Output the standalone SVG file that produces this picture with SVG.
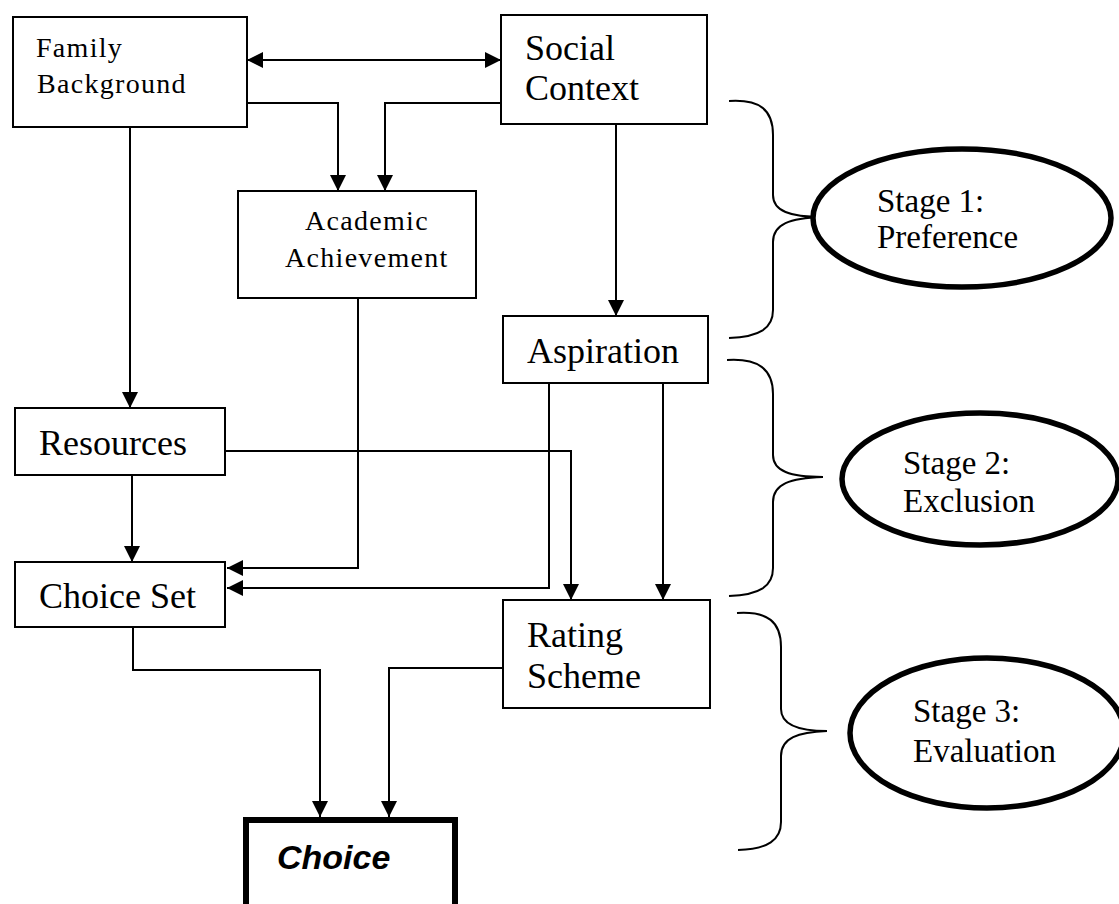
<svg xmlns="http://www.w3.org/2000/svg" width="1119" height="904" viewBox="0 0 1119 904">
<style>
.box{fill:#fff;stroke:#000;stroke-width:2}
.t{font-family:"Liberation Serif","Times New Roman",serif;fill:#000}
.sm{font-size:28px;letter-spacing:1.3px}
.lg{font-size:36px}
.st{font-size:33px}
.line{fill:none;stroke:#000;stroke-width:2}
.brace{fill:none;stroke:#000;stroke-width:2}
.ell{fill:#fff;stroke:#000;stroke-width:5.5}
</style>
<defs>
<marker id="ah" markerUnits="userSpaceOnUse" markerWidth="17" markerHeight="16" refX="16" refY="8" orient="auto">
<path d="M0,0 L16,8 L0,16 z" fill="#000"/>
</marker>
<marker id="ahs" markerUnits="userSpaceOnUse" markerWidth="17" markerHeight="16" refX="16" refY="8" orient="auto-start-reverse">
<path d="M0,0 L16,8 L0,16 z" fill="#000"/>
</marker>
</defs>
<rect width="1119" height="904" fill="#fff"/>
<g id="connectors">
<path class="line" d="M247,60 H501" marker-start="url(#ahs)" marker-end="url(#ah)"/>
<path class="line" d="M247,103 H338 V191" marker-end="url(#ah)"/>
<path class="line" d="M501,103 H385 V191" marker-end="url(#ah)"/>
<path class="line" d="M130,127 V408" marker-end="url(#ah)"/>
<path class="line" d="M616,124 V316" marker-end="url(#ah)"/>
<path class="line" d="M132,475 V562" marker-end="url(#ah)"/>
<path class="line" d="M358,298 V568 H227" marker-end="url(#ah)"/>
<path class="line" d="M549,383 V588 H227" marker-end="url(#ah)"/>
<path class="line" d="M225,451 H571 V600" marker-end="url(#ah)"/>
<path class="line" d="M663,383 V600" marker-end="url(#ah)"/>
<path class="line" d="M133,627 V670 H320 V817" marker-end="url(#ah)"/>
<path class="line" d="M503,668 H389 V817" marker-end="url(#ah)"/>
</g>
<g id="family">
<rect class="box" x="13" y="17" width="234" height="110"/>
<text class="t sm" x="36" y="57">Family</text>
<text class="t sm" x="37" y="93">Background</text>
</g>
<g id="social">
<rect class="box" x="501" y="15" width="206" height="109"/>
<text class="t lg" x="525" y="60">Social</text>
<text class="t lg" x="525" y="100">Context</text>
</g>
<g id="academic">
<rect class="box" x="238" y="191" width="238" height="107"/>
<text class="t sm" x="305" y="230">Academic</text>
<text class="t sm" x="285" y="267">Achievement</text>
</g>
<g id="aspiration">
<rect class="box" x="503" y="316" width="205" height="67"/>
<text class="t lg" x="527" y="363">Aspiration</text>
</g>
<g id="resources">
<rect class="box" x="15" y="408" width="210" height="67"/>
<text class="t lg" x="39" y="455">Resources</text>
</g>
<g id="choiceset">
<rect class="box" x="15" y="562" width="210" height="65"/>
<text class="t lg" x="39" y="608">Choice Set</text>
</g>
<g id="rating">
<rect class="box" x="503" y="600" width="207" height="108"/>
<text class="t lg" x="527" y="647">Rating</text>
<text class="t lg" x="527" y="688">Scheme</text>
</g>
<g id="choice">
<rect x="246" y="820" width="209" height="100" fill="#fff" stroke="#000" stroke-width="6"/>
<text x="277" y="869" font-family="'Liberation Sans',Arial,sans-serif" font-size="34" font-weight="bold" font-style="italic">Choice</text>
</g>
<g id="brace1">
<path class="brace" d="M729,101 C760,99 773,110 773,135 L773,195 C773,211 790,217 822,217 C790,218 773,224 773,242 L773,310 C773,328 760,337 729,338"/>
</g>
<g id="brace2">
<path class="brace" d="M727,360 C758,358 773,369 773,394 L773,455 C773,471 790,477 823,477 C790,478 773,484 773,502 L773,568 C773,586 760,595 729,596"/>
</g>
<g id="brace3">
<path class="brace" d="M737,613 C768,611 781,622 781,647 L781,709 C781,725 798,731 827,731 C798,732 781,738 781,756 L781,822 C781,840 768,849 738,850"/>
</g>
<g id="stage1">
<ellipse class="ell" cx="962" cy="218" rx="149" ry="69"/>
<text class="t st" x="877" y="212">Stage 1:</text>
<text class="t st" x="877" y="248">Preference</text>
</g>
<g id="stage2">
<ellipse class="ell" cx="980" cy="479" rx="138" ry="66"/>
<text class="t st" x="903" y="474">Stage 2:</text>
<text class="t st" x="903" y="512">Exclusion</text>
</g>
<g id="stage3">
<ellipse class="ell" cx="987" cy="733" rx="137" ry="75"/>
<text class="t st" x="913" y="722">Stage 3:</text>
<text class="t st" x="913" y="762">Evaluation</text>
</g>
</svg>
